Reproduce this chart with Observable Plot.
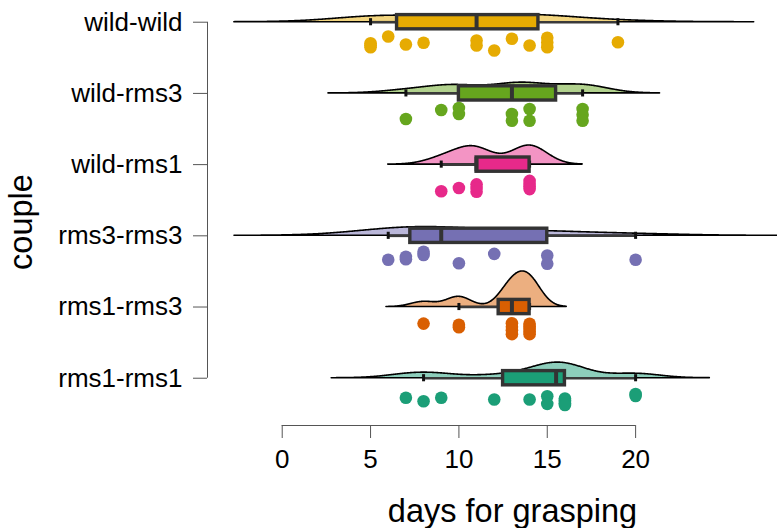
<!DOCTYPE html>
<html><head><meta charset="utf-8">
<script src="https://cdn.jsdelivr.net/npm/d3@7"></script>
<script src="https://cdn.jsdelivr.net/npm/@observablehq/plot@0.6"></script>
<style>html,body{margin:0;padding:0;background:#fff;} svg{display:block}</style>
</head><body><div id="chart"></div>
<script>
const couples = ["wild-wild", "wild-rms3", "wild-rms1", "rms3-rms3", "rms1-rms3", "rms1-rms1"];
const colors = ["#E6AB02", "#66A61E", "#E7298A", "#7570B3", "#D95F02", "#1B9E77"];

// days for grasping, per couple (read from the points)
const daysWildWild = [5, 5, 5, 6, 7, 8, 11, 11, 12, 13, 14, 15, 15, 15, 19];
const daysWildRms3 = [7, 9, 10, 10, 13, 13, 14, 14, 17, 17, 17];
const daysWildRms1 = [9, 10, 11, 11, 11, 14, 14, 14, 14];
const daysRms3Rms3 = [6, 7, 7, 8, 8, 10, 12, 15, 15, 20];
const daysRms1Rms3 = [8, 10, 10, 13, 13, 13, 13, 14, 14, 14, 14, 14];
const daysRms1Rms1 = [7, 8, 9, 12, 14, 15, 15, 16, 16, 16, 16, 16, 20, 20];

// vertical jitter of each point below its row (in row units)
const jitterWildWild = [0.295, 0.323, 0.351, 0.201, 0.313, 0.289, 0.257, 0.327, 0.397, 0.233, 0.327, 0.219, 0.285, 0.351, 0.281];
const jitterWildRms3 = [0.360, 0.233, 0.205, 0.289, 0.289, 0.383, 0.219, 0.383, 0.219, 0.299, 0.383];
const jitterWildRms1 = [0.375, 0.329, 0.277, 0.330, 0.382, 0.228, 0.267, 0.305, 0.344];
const jitterRms3Rms3 = [0.337, 0.295, 0.329, 0.223, 0.270, 0.385, 0.253, 0.277, 0.393, 0.337];
const jitterRms1Rms3 = [0.233, 0.250, 0.285, 0.229, 0.278, 0.327, 0.381, 0.236, 0.271, 0.308, 0.344, 0.381];
const jitterRms1Rms1 = [0.275, 0.323, 0.275, 0.299, 0.299, 0.253, 0.360, 0.285, 0.308, 0.330, 0.354, 0.376, 0.222, 0.250];

// box statistics per couple
const whiskerLow = [5, 7, 9, 6, 10, 8];
const q1 = [6.5, 10, 11, 7.25, 12.25, 12.5];
const median = [11, 13, 11, 9, 13, 15.5];
const q3 = [14.5, 15.5, 14, 15, 14, 16];
const whiskerHigh = [19, 17, 14, 20, 14, 20];
// kernel density bandwidths
const bandwidth = [2.57, 1.46, 1.0, 2.9, 0.7, 1.4];

const xTicks = [0, 5, 10, 15, 20];

const days = [daysWildWild, daysWildRms3, daysWildRms1, daysRms3Rms3, daysRms1Rms3, daysRms1Rms1];
const jitters = [jitterWildWild, jitterWildRms3, jitterWildRms1, jitterRms3Rms3, jitterRms1Rms3, jitterRms1Rms1];

const densityScale = 1.5;   // row units per density unit
const boxHalf = 0.1;
const capHalf = 0.05;

function kde(values, bw) {
  const lo = d3.min(values) - 3 * bw, hi = d3.max(values) + 3 * bw, m = 512;
  return d3.range(m).map(j => {
    const x = lo + (hi - lo) * j / (m - 1);
    const d = d3.sum(values, v => Math.exp(-0.5 * ((x - v) / bw) ** 2)) / (values.length * bw * Math.sqrt(2 * Math.PI));
    return {x, d};
  });
}

const xDomain = [-4.228, 28.03];
const yDomain = [-0.305, 5.664];

const marks = [];
couples.forEach((c, i) => {
  const dens = kde(days[i], bandwidth[i]);
  marks.push(Plot.areaY(dens, {x: "x", y1: () => i, y2: r => i - r.d * densityScale,
    fill: colors[i], fillOpacity: 0.5, stroke: "black", strokeWidth: 1.6, clip: true}));
});
const boxRows = couples.map((c, i) => ({i, lo: whiskerLow[i], q1: q1[i], med: median[i], q3: q3[i], hi: whiskerHigh[i], color: colors[i]}));
marks.push(
  Plot.ruleY(boxRows, {y: "i", x1: "lo", x2: "q1", stroke: "#3a3a3a", strokeWidth: 2.6}),
  Plot.ruleY(boxRows, {y: "i", x1: "q3", x2: "hi", stroke: "#3a3a3a", strokeWidth: 2.6}),
  Plot.ruleX(boxRows, {x: "lo", y1: d => d.i - capHalf, y2: d => d.i + capHalf, stroke: "#111", strokeWidth: 3}),
  Plot.ruleX(boxRows, {x: "hi", y1: d => d.i - capHalf, y2: d => d.i + capHalf, stroke: "#111", strokeWidth: 3}),
  Plot.rect(boxRows, {x1: "q1", x2: "q3", y1: d => d.i - boxHalf, y2: d => d.i + boxHalf, fill: "color", stroke: "#333", strokeWidth: 3.4}),
  Plot.ruleX(boxRows, {x: "med", y1: d => d.i - boxHalf, y2: d => d.i + boxHalf, stroke: "#333", strokeWidth: 4})
);
const pts = [];
days.forEach((arr, i) => arr.forEach((v, k) => pts.push({v, y: i + jitters[i][k], color: colors[i]})));
marks.push(Plot.dot(pts, {x: "v", y: "y", r: 6.3, fill: "color", stroke: null}));

// axes
marks.push(
  Plot.ruleX([xDomain[0]], {y1: 0, y2: couples.length - 1, stroke: "#555", strokeWidth: 1}),
  Plot.ruleY([yDomain[1]], {x1: xTicks[0], x2: xTicks[xTicks.length - 1], stroke: "#555", strokeWidth: 1}),
  Plot.axisY({ticks: d3.range(couples.length), tickFormat: i => couples[i], tickSize: 14, tickPadding: 11,
    fontSize: 26, stroke: "#555", fill: "black", label: null}),
  Plot.axisX({ticks: xTicks, tickSize: 13, tickPadding: 11, fontSize: 26, stroke: "#555", fill: "black", label: null}),
  Plot.text(["days for grasping"], {text: d => d, frameAnchor: "bottom", textAnchor: "middle", lineAnchor: "middle",
    dx: 20, dy: 86, fontSize: 32.5, fill: "black"}),
  Plot.text(["couple"], {text: d => d, frameAnchor: "left", textAnchor: "middle", lineAnchor: "middle",
    rotate: -90, dx: -186, dy: 9, fontSize: 32.5, fill: "black"})
);

const chart = Plot.plot({
  width: 777, height: 528,
  marginLeft: 207, marginRight: 0, marginTop: 0, marginBottom: 103,
  x: {domain: xDomain},
  y: {domain: yDomain, reverse: true},
  style: {fontFamily: "'Liberation Sans', Arial, sans-serif", background: "white", color: "black"},
  marks
});
document.getElementById("chart").appendChild(chart);
</script>
</body></html>
